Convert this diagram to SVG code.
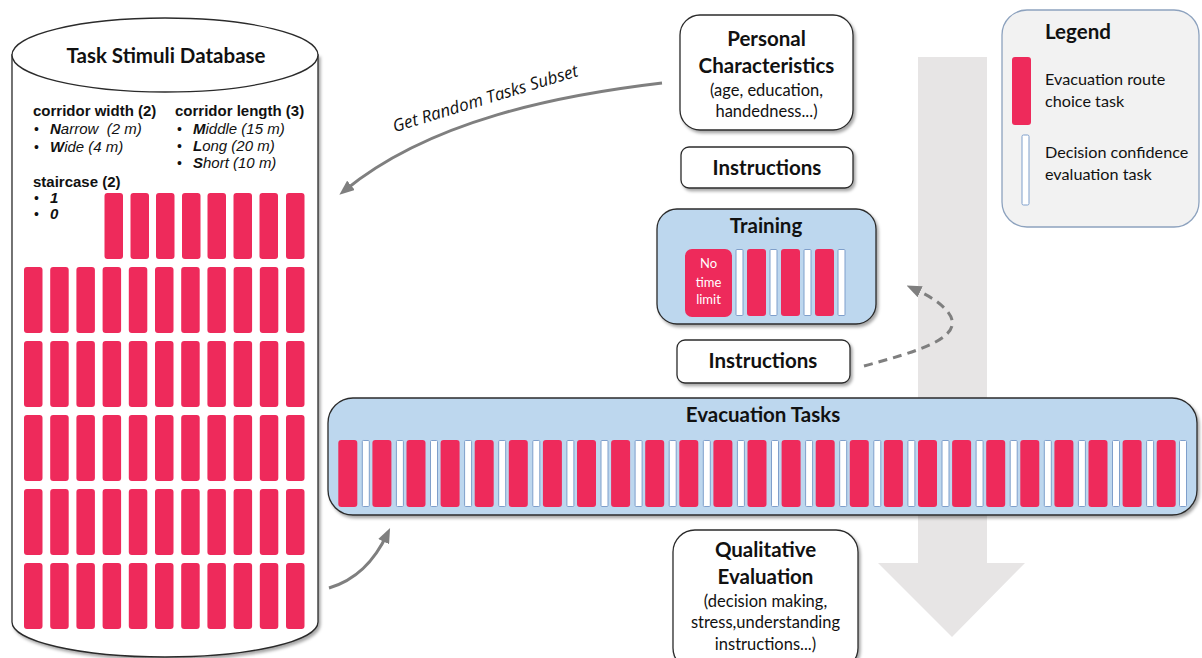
<svg xmlns="http://www.w3.org/2000/svg" xmlns:xlink="http://www.w3.org/1999/xlink" width="1202" height="658" viewBox="0 0 1202 658">
<style>
.pink{fill:#EE2A5B}
.wbar{fill:#fff;stroke:#7F9FCB;stroke-width:1}
.box{fill:#fff;stroke:#2b2b2b;stroke-width:1.3}
.blue{fill:#BDD7EE;stroke:#2b2b2b;stroke-width:1.3}
.cal{font-family:Lato,"Open Sans",sans-serif;fill:#111}
.title{font-size:20.5px;font-weight:bold;text-anchor:middle}
.sub{font-size:16.5px;text-anchor:middle}
.leg{font-size:16.2px}
.ari{font-family:"Liberation Sans",Arial,sans-serif;fill:#111}
.h{font-size:15px;font-weight:bold}
.it{font-size:15px;font-style:italic}
.bul{font-size:14px}
.conn{fill:none;stroke:#7F7F7F;stroke-width:3}
</style>
<defs>
<filter id="sh" x="-10%" y="-10%" width="130%" height="130%">
<feDropShadow dx="2" dy="2.5" stdDeviation="1.8" flood-color="#000" flood-opacity="0.35"/>
</filter>
<marker id="ah" viewBox="0 0 10 8" refX="6" refY="4" markerWidth="5" markerHeight="4" orient="auto">
<path d="M0,0 L10,4 L0,8 z" fill="#7F7F7F"/>
</marker>
<rect id="db" width="18.5" height="66" rx="3"/>
<rect id="ep" width="19" height="67" rx="3"/>
<rect id="ew" width="7" height="66" rx="1"/>
</defs>

<!-- big flow arrow -->
<polygon id="flow" points="918,57 987,57 987,563 1025,563 952,637 878,563 918,563" fill="#E7E5E5"/>

<g id="database">
<path d="M12,55 L12,622 A153,35 0 0 0 318,622 L318,55 Z" fill="#fff" stroke="#2b2b2b" stroke-width="1.3" filter="url(#sh)"/>
<ellipse cx="165" cy="55" rx="153" ry="37" fill="#fff" stroke="#2b2b2b" stroke-width="1.3"/>
<text class="cal title" x="166" y="63" font-size="21">Task Stimuli Database</text>
<text class="ari h" x="33" y="116">corridor width (2)</text>
<text class="ari h" x="175" y="116">corridor length (3)</text>
<g class="ari bul">
<text x="34" y="134">•</text><text x="34" y="152">•</text>
<text x="177" y="134">•</text><text x="177" y="151">•</text><text x="177" y="168">•</text>
<text x="34" y="203">•</text><text x="34" y="219">•</text>
</g>
<text class="ari it" x="50" y="134"><tspan font-weight="bold">N</tspan>arrow&#160; (2 m)</text>
<text class="ari it" x="50" y="152"><tspan font-weight="bold">W</tspan>ide (4 m)</text>
<text class="ari it" x="193" y="134"><tspan font-weight="bold">M</tspan>iddle (15 m)</text>
<text class="ari it" x="193" y="151"><tspan font-weight="bold">L</tspan>ong (20 m)</text>
<text class="ari it" x="193" y="168"><tspan font-weight="bold">S</tspan>hort (10 m)</text>
<text class="ari h" x="33" y="187">staircase (2)</text>
<text class="ari it" x="50" y="203" font-weight="bold">1</text>
<text class="ari it" x="50" y="219" font-weight="bold">0</text>
<g class="pink">
<use href="#db" x="104.5" y="193"/><use href="#db" x="130.5" y="193"/><use href="#db" x="156" y="193"/><use href="#db" x="182" y="193"/><use href="#db" x="207.5" y="193"/><use href="#db" x="233.5" y="193"/><use href="#db" x="259.5" y="193"/><use href="#db" x="286" y="193"/>
<use href="#db" x="24" y="267"/><use href="#db" x="50.2" y="267"/><use href="#db" x="76.4" y="267"/><use href="#db" x="102.6" y="267"/><use href="#db" x="128.8" y="267"/><use href="#db" x="155" y="267"/><use href="#db" x="181.2" y="267"/><use href="#db" x="207.4" y="267"/><use href="#db" x="233.6" y="267"/><use href="#db" x="259.8" y="267"/><use href="#db" x="286" y="267"/>
<use href="#db" x="24" y="341"/><use href="#db" x="50.2" y="341"/><use href="#db" x="76.4" y="341"/><use href="#db" x="102.6" y="341"/><use href="#db" x="128.8" y="341"/><use href="#db" x="155" y="341"/><use href="#db" x="181.2" y="341"/><use href="#db" x="207.4" y="341"/><use href="#db" x="233.6" y="341"/><use href="#db" x="259.8" y="341"/><use href="#db" x="286" y="341"/>
<use href="#db" x="24" y="415"/><use href="#db" x="50.2" y="415"/><use href="#db" x="76.4" y="415"/><use href="#db" x="102.6" y="415"/><use href="#db" x="128.8" y="415"/><use href="#db" x="155" y="415"/><use href="#db" x="181.2" y="415"/><use href="#db" x="207.4" y="415"/><use href="#db" x="233.6" y="415"/><use href="#db" x="259.8" y="415"/><use href="#db" x="286" y="415"/>
<use href="#db" x="24" y="489"/><use href="#db" x="50.2" y="489"/><use href="#db" x="76.4" y="489"/><use href="#db" x="102.6" y="489"/><use href="#db" x="128.8" y="489"/><use href="#db" x="155" y="489"/><use href="#db" x="181.2" y="489"/><use href="#db" x="207.4" y="489"/><use href="#db" x="233.6" y="489"/><use href="#db" x="259.8" y="489"/><use href="#db" x="286" y="489"/>
<use href="#db" x="24" y="563"/><use href="#db" x="50.2" y="563"/><use href="#db" x="76.4" y="563"/><use href="#db" x="102.6" y="563"/><use href="#db" x="128.8" y="563"/><use href="#db" x="155" y="563"/><use href="#db" x="181.2" y="563"/><use href="#db" x="207.4" y="563"/><use href="#db" x="233.6" y="563"/><use href="#db" x="259.8" y="563"/><use href="#db" x="286" y="563"/>
</g>
</g>

<g id="personal">
<rect class="box" x="680" y="15" width="173" height="115" rx="20" filter="url(#sh)"/>
<text class="cal title" x="766.5" y="46">Personal</text>
<text class="cal title" x="766.5" y="73">Characteristics</text>
<text class="cal sub" x="766.5" y="96">(age, education,</text>
<text class="cal sub" x="766.5" y="117">handedness...)</text>
</g>

<g id="instructions1">
<rect class="box" x="681" y="147" width="172" height="41" rx="8" filter="url(#sh)"/>
<text class="cal title" x="767" y="175">Instructions</text>
</g>

<g id="legend">
<rect x="1002" y="10" width="197" height="217" rx="25" fill="#F2F2F2" stroke="#8DA2BE" stroke-width="1.3"/>
<text class="cal" x="1045" y="39" font-size="20.5" font-weight="bold">Legend</text>
<rect class="pink" x="1012" y="57" width="19" height="68" rx="3"/>
<text class="cal leg" x="1045" y="85">Evacuation route</text>
<text class="cal leg" x="1045" y="107">choice task</text>
<rect class="wbar" x="1022" y="135" width="7" height="70" rx="1.5"/>
<text class="cal leg" x="1045" y="158">Decision confidence</text>
<text class="cal leg" x="1045" y="180">evaluation task</text>
</g>

<g id="training">
<rect class="blue" x="657" y="209" width="219" height="115" rx="20" filter="url(#sh)"/>
<text class="cal title" x="766" y="233">Training</text>
<rect class="pink" x="685" y="249" width="47" height="68" rx="7"/>
<text class="cal" x="708.5" y="268" font-size="13" text-anchor="middle" style="fill:#fff">No</text>
<text class="cal" x="708.5" y="287" font-size="13" text-anchor="middle" style="fill:#fff">time</text>
<text class="cal" x="708.5" y="304" font-size="13" text-anchor="middle" style="fill:#fff">limit</text>
<use href="#ew" class="wbar" x="736" y="249.5"/>
<use href="#ep" class="pink" x="747" y="249"/>
<use href="#ew" class="wbar" x="770" y="249.5"/>
<use href="#ep" class="pink" x="781" y="249"/>
<use href="#ew" class="wbar" x="804" y="249.5"/>
<use href="#ep" class="pink" x="815" y="249"/>
<use href="#ew" class="wbar" x="838" y="249.5"/>
</g>

<g id="instructions2">
<rect class="box" x="677" y="340" width="173" height="43" rx="8" filter="url(#sh)"/>
<text class="cal title" x="763" y="368">Instructions</text>
</g>

<g id="evacuation">
<rect class="blue" x="328" y="398" width="869" height="117" rx="25" filter="url(#sh)"/>
<text class="cal title" x="763" y="422">Evacuation Tasks</text>
<g class="pink">
<use href="#ep" x="338.3" y="440"/><use href="#ep" x="372.4" y="440"/><use href="#ep" x="406.5" y="440"/><use href="#ep" x="440.6" y="440"/><use href="#ep" x="474.7" y="440"/><use href="#ep" x="508.8" y="440"/><use href="#ep" x="542.9" y="440"/><use href="#ep" x="577" y="440"/><use href="#ep" x="611.1" y="440"/><use href="#ep" x="645.2" y="440"/><use href="#ep" x="679.3" y="440"/><use href="#ep" x="713.4" y="440"/><use href="#ep" x="747.5" y="440"/><use href="#ep" x="781.6" y="440"/><use href="#ep" x="815.7" y="440"/><use href="#ep" x="849.8" y="440"/><use href="#ep" x="883.9" y="440"/><use href="#ep" x="918" y="440"/><use href="#ep" x="952.1" y="440"/><use href="#ep" x="986.2" y="440"/><use href="#ep" x="1020.3" y="440"/><use href="#ep" x="1054.4" y="440"/><use href="#ep" x="1088.5" y="440"/><use href="#ep" x="1122.6" y="440"/><use href="#ep" x="1156.7" y="440"/>
</g>
<g class="wbar">
<use href="#ew" x="362.3" y="440.5"/><use href="#ew" x="396.4" y="440.5"/><use href="#ew" x="430.5" y="440.5"/><use href="#ew" x="464.6" y="440.5"/><use href="#ew" x="498.7" y="440.5"/><use href="#ew" x="532.8" y="440.5"/><use href="#ew" x="566.9" y="440.5"/><use href="#ew" x="601" y="440.5"/><use href="#ew" x="635.1" y="440.5"/><use href="#ew" x="669.2" y="440.5"/><use href="#ew" x="703.3" y="440.5"/><use href="#ew" x="737.4" y="440.5"/><use href="#ew" x="771.5" y="440.5"/><use href="#ew" x="805.6" y="440.5"/><use href="#ew" x="839.7" y="440.5"/><use href="#ew" x="873.8" y="440.5"/><use href="#ew" x="907.9" y="440.5"/><use href="#ew" x="942" y="440.5"/><use href="#ew" x="976.1" y="440.5"/><use href="#ew" x="1010.2" y="440.5"/><use href="#ew" x="1044.3" y="440.5"/><use href="#ew" x="1078.4" y="440.5"/><use href="#ew" x="1112.5" y="440.5"/><use href="#ew" x="1146.6" y="440.5"/><use href="#ew" x="1179.5" y="440.5"/>
</g>
</g>

<g id="qualitative">
<rect class="box" x="673" y="530" width="185" height="140" rx="22" filter="url(#sh)"/>
<text class="cal title" x="765.5" y="557">Qualitative</text>
<text class="cal title" x="765.5" y="584">Evaluation</text>
<text class="cal sub" x="765.5" y="607">(decision making,</text>
<text class="cal sub" x="765.5" y="628">stress,understanding</text>
<text class="cal sub" x="765.5" y="650">instructions...)</text>
</g>

<g id="connectors">
<path class="conn" d="M662,83 C560,95 430,120 344,191" marker-end="url(#ah)"/>
<text x="0" y="0" transform="translate(487,104) rotate(-17)" font-family="'Open Sans',sans-serif" font-style="italic" font-size="17" fill="#111" text-anchor="middle">Get Random Tasks Subset</text>
<path class="conn" d="M329,588 C356,580 374,562 387.5,533.5" marker-end="url(#ah)"/>
<path class="conn" d="M864,366 C915,352 968,338 948,312 C938,300 925,294 912,288" stroke-dasharray="9 6" marker-end="url(#ah)"/>
</g>
</svg>
